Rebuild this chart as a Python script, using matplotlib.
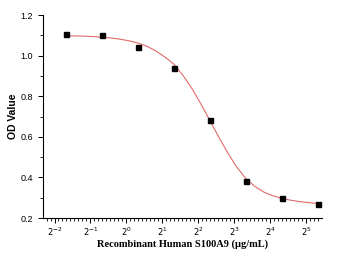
import numpy as np
import matplotlib
matplotlib.use('Agg')
import matplotlib.pyplot as plt
from matplotlib.ticker import FixedLocator, MultipleLocator, NullFormatter

# measured points (concentration in ug/mL, OD)
conc = [0.3125, 0.625, 1.25, 2.5, 5, 10, 20, 40]
od = [1.106, 1.100, 1.042, 0.937, 0.684, 0.381, 0.297, 0.269]

# fitted curve (log2 of concentration, OD)
fit_log2 = [-1.678, -1.428, -1.178, -0.928, -0.678, -0.428, -0.178, 0.072,
            0.322, 0.572, 0.822, 1.072, 1.322, 1.572, 1.822, 2.072, 2.322,
            2.572, 2.822, 3.072, 3.322, 3.572, 3.822, 4.072, 4.322, 4.572,
            4.822, 5.072, 5.322]
fit_od = [1.098, 1.097, 1.096, 1.094, 1.091, 1.087, 1.081, 1.073,
          1.062, 1.046, 1.023, 0.993, 0.958, 0.903, 0.838, 0.762, 0.680,
          0.598, 0.520, 0.450, 0.395, 0.356, 0.328, 0.310, 0.297, 0.288,
          0.281, 0.276, 0.272]

x_exps = [-2, -1, 0, 1, 2, 3, 4, 5]

fig = plt.figure(figsize=(3.38, 2.59), dpi=100)
ax = fig.add_axes([0.127, 0.158, 0.826, 0.784])

fit_x = [2.0 ** v for v in fit_log2]
ax.plot(fit_x, fit_od, color='#e26a6a', lw=0.8)
ax.plot(conc, od, 's', color='black', markersize=3.6)

ax.set_xscale('log', base=2)
ax.set_xlim(0.2, 43.5)
ax.set_ylim(0.2, 1.2)

ax.xaxis.set_major_locator(FixedLocator([2.0 ** e for e in x_exps]))
ax.set_xticklabels([r'$2^{%d}$' % e for e in x_exps], fontsize=6)
minors = [2.0 ** (k + j / 9.0) for k in range(-3, 6) for j in range(1, 9)]
ax.xaxis.set_minor_locator(FixedLocator(minors))
ax.xaxis.set_minor_formatter(NullFormatter())

ax.yaxis.set_major_locator(MultipleLocator(0.2))
ax.yaxis.set_minor_locator(MultipleLocator(0.1))
ax.set_yticklabels(['%.1f' % v for v in ax.get_yticks()])
for lab in ax.get_yticklabels():
    lab.set_fontfamily('Liberation Sans')
    lab.set_fontsize(6.5)

ax.tick_params(which='major', direction='out', length=3.5, width=0.7)
ax.tick_params(which='minor', direction='out', length=2, width=0.6)
ax.tick_params(axis='x', pad=2)

ax.spines['top'].set_visible(False)
ax.spines['right'].set_visible(False)
ax.spines['left'].set_linewidth(0.8)
ax.spines['bottom'].set_linewidth(0.8)

ax.set_ylabel('OD Value', fontfamily='Liberation Sans', fontweight='bold', fontsize=7.5, labelpad=2)
ax.set_xlabel('Recombinant Human S100A9 (\u03bcg/mL)', fontfamily='Liberation Serif',
              fontweight='bold', fontsize=7.5, labelpad=1)

fig.savefig('out.png', dpi=100)
